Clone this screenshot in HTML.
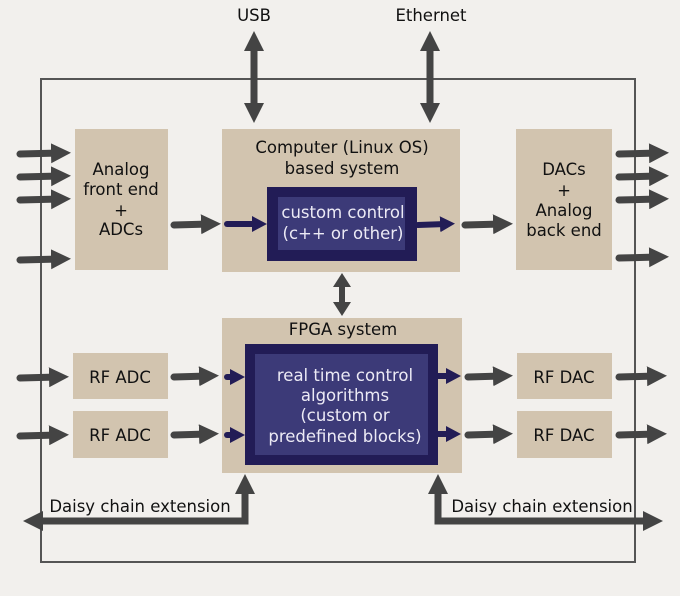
<!DOCTYPE html>
<html><head><meta charset="utf-8"><style>
html,body{margin:0;padding:0;background:#f2f0ed;}
svg{display:block}
text{font-family:"DejaVu Sans","Liberation Sans",sans-serif;font-size:16.5px;fill:#111;text-anchor:middle}
.w{fill:#eceaf5}
</style></head><body>
<svg width="680" height="596" viewBox="0 0 680 596" xmlns="http://www.w3.org/2000/svg">
<defs>
<marker id="g" markerUnits="userSpaceOnUse" markerWidth="22" markerHeight="22" refX="9" refY="10" orient="auto-start-reverse"><path d="M0,0 L20,10 L0,20 z" fill="#444"/></marker>
<marker id="n" markerUnits="userSpaceOnUse" markerWidth="20" markerHeight="20" refX="6" refY="8" orient="auto-start-reverse"><path d="M0,0 L15,8 L0,16 z" fill="#221c56"/></marker>
</defs>
<rect x="41" y="79" width="594" height="483" fill="none" stroke="#555" stroke-width="2"/>
<rect x="75" y="129" width="93" height="141" fill="#d2c4af"/>
<rect x="222" y="129" width="238" height="143" fill="#d2c4af"/>
<rect x="516" y="129" width="96" height="141" fill="#d2c4af"/>
<rect x="222" y="318" width="240" height="155" fill="#d2c4af"/>
<rect x="73" y="353" width="95" height="46" fill="#d2c4af"/>
<rect x="73" y="411" width="95" height="47" fill="#d2c4af"/>
<rect x="517" y="353" width="95" height="46" fill="#d2c4af"/>
<rect x="517" y="411" width="95" height="47" fill="#d2c4af"/>
<rect x="267" y="187" width="150" height="74" fill="#221c56"/>
<rect x="278" y="197" width="127" height="53" fill="#3c3a78"/>
<rect x="245" y="344" width="193" height="121" fill="#221c56"/>
<rect x="255" y="354" width="173" height="101" fill="#3c3a78"/>
<g stroke="#444" stroke-width="7" stroke-linecap="round" fill="none" marker-end="url(#g)">
<line x1="20" y1="154" x2="60" y2="153"/>
<line x1="20" y1="177" x2="60" y2="176"/>
<line x1="20" y1="200" x2="60" y2="199"/>
<line x1="20" y1="260" x2="60" y2="259"/>
<line x1="174" y1="225" x2="210" y2="224"/>
<line x1="465" y1="225" x2="502" y2="224"/>
<line x1="619" y1="154" x2="658" y2="153"/>
<line x1="619" y1="177" x2="658" y2="176"/>
<line x1="619" y1="200" x2="658" y2="199"/>
<line x1="619" y1="258" x2="658" y2="257"/>
<line x1="20" y1="378" x2="58" y2="377"/>
<line x1="20" y1="436" x2="58" y2="435"/>
<line x1="174" y1="377" x2="208" y2="376"/>
<line x1="174" y1="435" x2="208" y2="434"/>
<line x1="468" y1="377" x2="502" y2="376"/>
<line x1="468" y1="435" x2="502" y2="434"/>
<line x1="619" y1="377" x2="656" y2="376"/>
<line x1="619" y1="435" x2="656" y2="434"/>
<line x1="254" y1="42" x2="254" y2="112" marker-start="url(#g)"/>
<line x1="430" y1="42" x2="430" y2="112" marker-start="url(#g)"/>
<polyline points="245,490 245,521 34,521"/>
<polyline points="438,490 438,521 652,521"/>
</g>
<line x1="342" y1="284" x2="342" y2="305" stroke="#444" stroke-width="6"/>
<g fill="#444">
<path d="M235,494 L245,474 L255,494 z"/>
<path d="M428,494 L438,474 L448,494 z"/>
<path d="M333,287 L342,273 L351,287 z"/>
<path d="M333,302 L342,316 L351,302 z"/>
</g>
<g stroke="#221c56" stroke-width="6" stroke-linecap="round" fill="none" marker-end="url(#n)">
<line x1="227" y1="224" x2="258" y2="224"/>
<line x1="418" y1="225" x2="446" y2="224"/>
<line x1="227" y1="377" x2="236" y2="377"/>
<line x1="227" y1="435" x2="236" y2="435"/>
<line x1="438" y1="376" x2="452" y2="376"/>
<line x1="438" y1="434" x2="452" y2="434"/>
</g>
<text x="254" y="21">USB</text>
<text x="431" y="21">Ethernet</text>
<text x="121" y="175">Analog</text>
<text x="121" y="195">front end</text>
<text x="121" y="216">+</text>
<text x="121" y="235">ADCs</text>
<text x="342" y="153">Computer (Linux OS)</text>
<text x="342" y="174">based system</text>
<text class="w" x="343" y="218">custom control</text>
<text class="w" x="343" y="239">(c++ or other)</text>
<text x="564" y="175">DACs</text>
<text x="564" y="196">+</text>
<text x="564" y="216">Analog</text>
<text x="564" y="236">back end</text>
<text x="343" y="335">FPGA system</text>
<text class="w" x="345" y="381">real time control</text>
<text class="w" x="345" y="401">algorithms</text>
<text class="w" x="345" y="421">(custom or</text>
<text class="w" x="345" y="442">predefined blocks)</text>
<text x="120" y="383">RF ADC</text>
<text x="120" y="441">RF ADC</text>
<text x="564" y="383">RF DAC</text>
<text x="564" y="441">RF DAC</text>
<text x="140" y="512">Daisy chain extension</text>
<text x="542" y="512">Daisy chain extension</text>
</svg>
</body></html>
